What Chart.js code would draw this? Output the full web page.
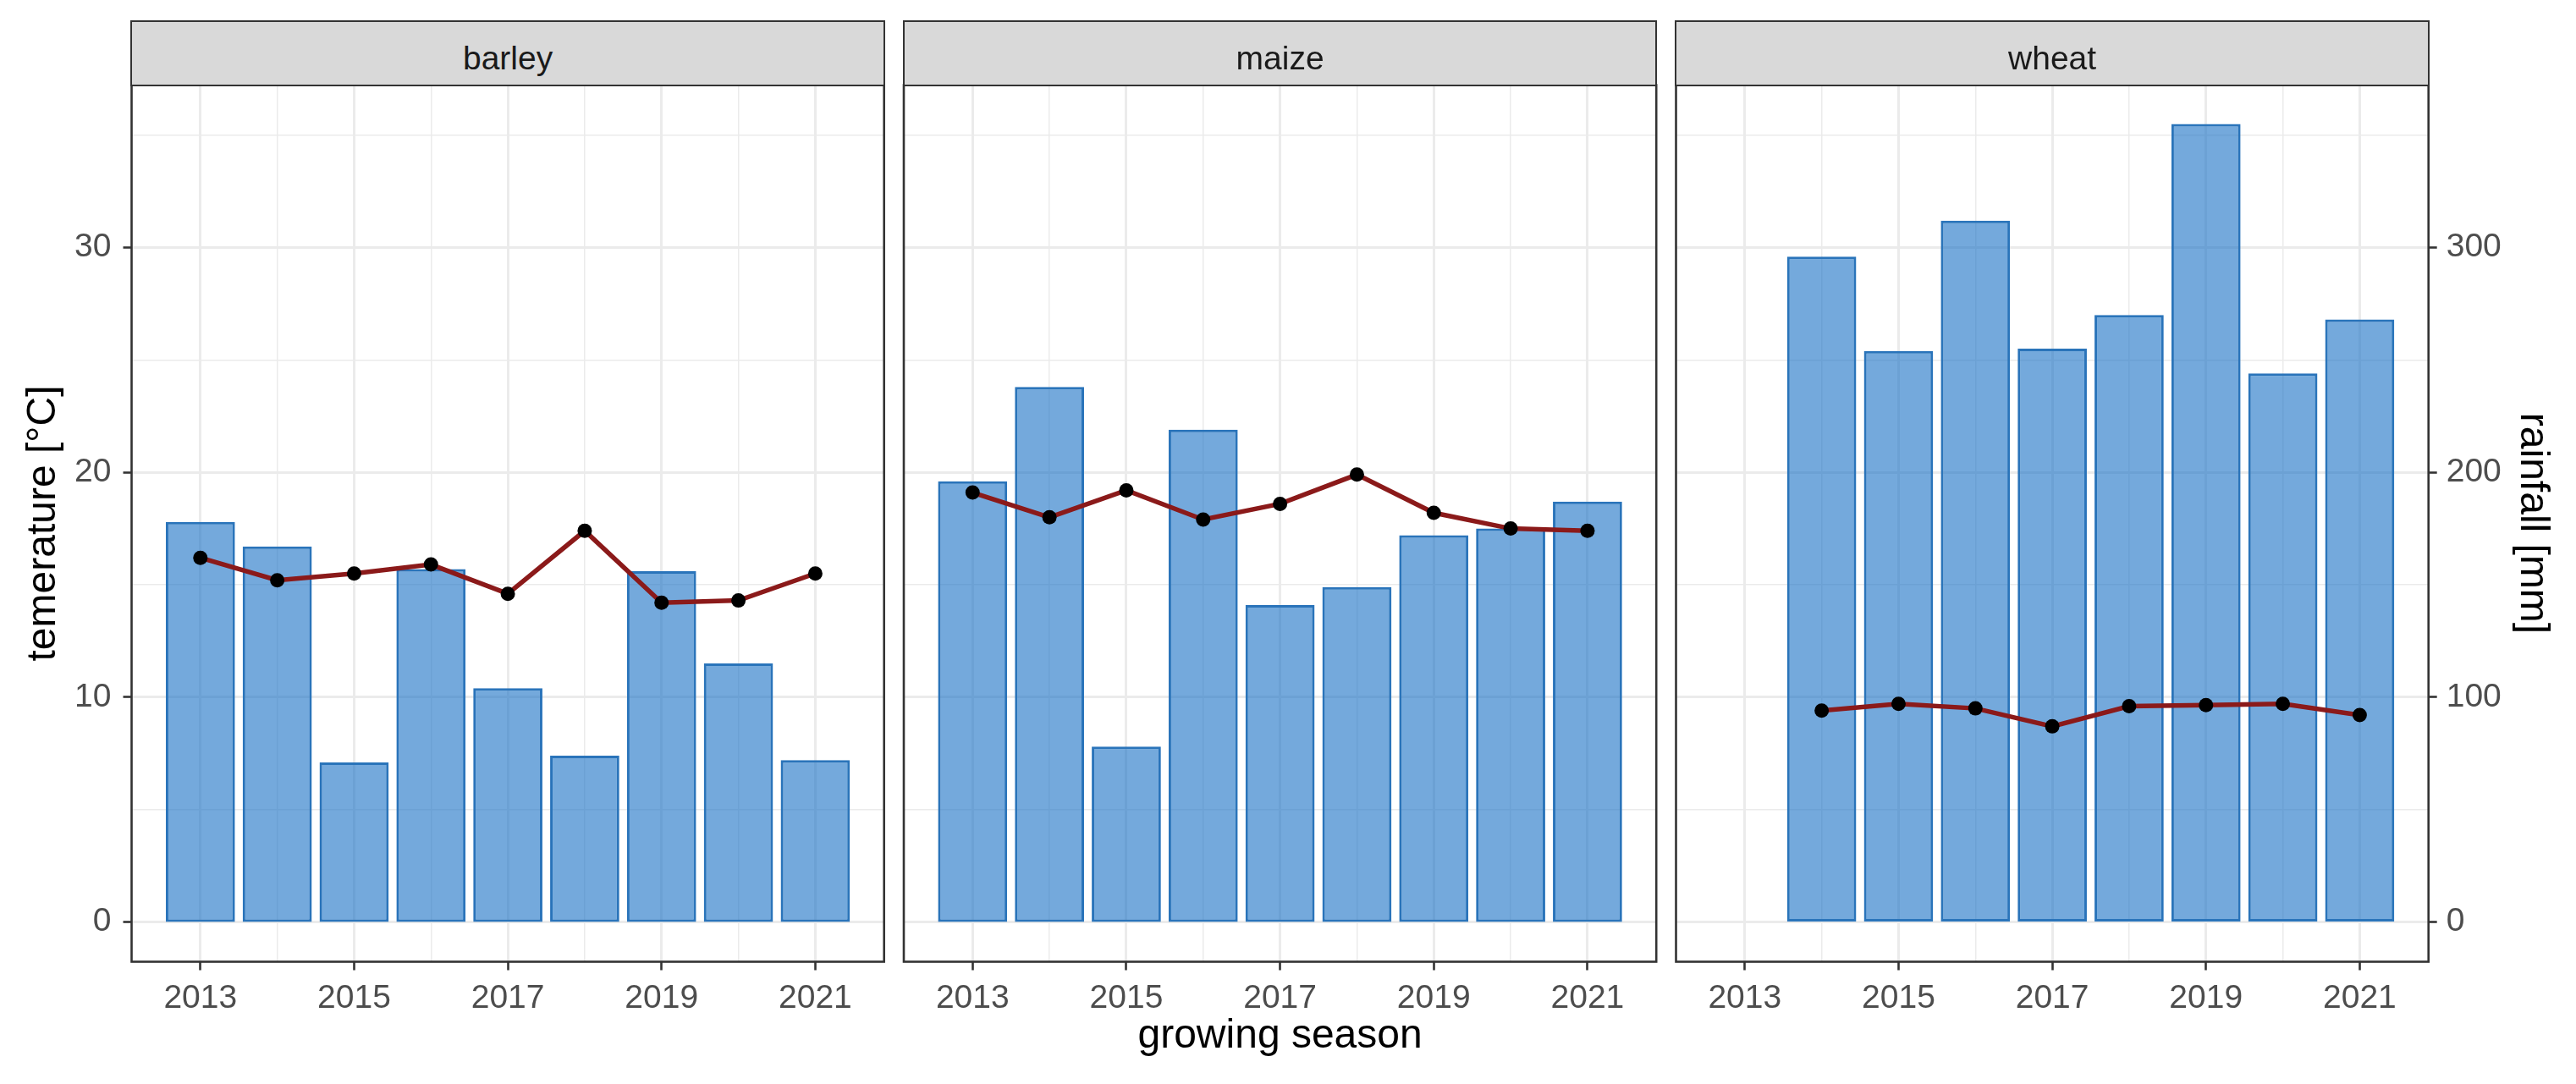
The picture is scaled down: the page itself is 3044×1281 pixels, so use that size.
<!DOCTYPE html>
<html>
<head>
<meta charset="utf-8">
<script src="https://cdn.jsdelivr.net/npm/chart.js@4"></script>
<style>
  html, body { margin: 0; padding: 0; background: #fff; }
  #wrap { position: relative; width: 3044px; height: 1281px; overflow: hidden; }
  #wrap canvas { position: absolute; left: 0; top: 0; }
  .strip {
    position: absolute; box-sizing: border-box;
    background: #d9d9d9; border: 2.6px solid #333;
    font-family: "Liberation Sans", Arial, sans-serif; font-size: 39px; color: #1a1a1a;
  }
  .strip span { position: absolute; left: 0; right: 0; text-align: center; line-height: 39px; top: 23.7px; }
</style>
</head>
<body>
<div id="wrap">
  <canvas id="c0" width="3044" height="1281"></canvas>
  <canvas id="c1" width="3044" height="1281"></canvas>
  <canvas id="c2" width="3044" height="1281"></canvas>
</div>
<script>
// data
const crops = ["barley", "maize", "wheat"];

const barleyYears = [2013, 2014, 2015, 2016, 2017, 2018, 2019, 2020, 2021];
const barleyRain  = [178, 167, 71, 157, 104, 74, 156, 115, 72];
const barleyTemp  = [16.2, 15.2, 15.5, 15.9, 14.6, 17.4, 14.2, 14.3, 15.5];

const maizeYears = [2013, 2014, 2015, 2016, 2017, 2018, 2019, 2020, 2021];
const maizeRain  = [196, 238, 78, 219, 141, 149, 172, 175, 187];
const maizeTemp  = [19.1, 18.0, 19.2, 17.9, 18.6, 19.9, 18.2, 17.5, 17.4];

const wheatYears = [2014, 2015, 2016, 2017, 2018, 2019, 2020, 2021];
const wheatRain  = [296, 254, 312, 255, 270, 355, 244, 268];
const wheatTemp  = [9.4, 9.7, 9.5, 8.7, 9.6, 9.65, 9.7, 9.2];

// ticks / grid breaks
const xGridYears = [2013, 2014, 2015, 2016, 2017, 2018, 2019, 2020, 2021];
const xTickLabels = [2013, 2015, 2017, 2019, 2021];
const tempGrid = [0, 5, 10, 15, 20, 25, 30, 35];
const tempTickLabels = [0, 10, 20, 30];
const rainTickLabels = [0, 100, 200, 300];

// axis limits (ggplot style 5% expansion)
const X_MIN = 2012.105, X_MAX = 2021.895;
const TEMP_MIN = -1.77, TEMP_MAX = 37.23;
const RAIN_MIN = -17.7, RAIN_MAX = 372.3;

// panel geometry
const W = 3044, H = 1281;
const PANEL_LEFT = [155.5, 1068, 1980.5];
const PANEL_RIGHT = [1044.7, 1957.2, 2869.7];
const PANEL_TOP = 100.5, PANEL_BOTTOM = 1136.5, STRIP_TOP = 25;

const FONT = "'Liberation Sans', Arial, sans-serif";
const GRID = "#ebebeb";
const DARK = "#333333";

const panelBorder = {
  id: "panelBorder",
  afterDraw(chart) {
    const { ctx, chartArea: a } = chart;
    ctx.save();
    ctx.strokeStyle = DARK;
    ctx.lineWidth = 2.6;
    ctx.strokeRect(a.left, a.top, a.right - a.left, a.bottom - a.top);
    ctx.restore();
  }
};

const setTicks = list => s => { s.ticks = list.map(v => ({ value: v })); };

function drawPanel(i, years, rain, temp) {
  // strip label
  const strip = document.createElement("div");
  strip.className = "strip";
  strip.style.left = (PANEL_LEFT[i] - 1.3) + "px";
  strip.style.top = (STRIP_TOP - 1.3) + "px";
  strip.style.width = (PANEL_RIGHT[i] - PANEL_LEFT[i] + 2.6) + "px";
  strip.style.height = (PANEL_TOP - STRIP_TOP + 2.6) + "px";
  strip.innerHTML = "<span>" + crops[i] + "</span>";
  document.getElementById("wrap").appendChild(strip);

  const tickFont = { family: FONT, size: 39 };
  const titleFont = { family: FONT, size: 48 };

  new Chart(document.getElementById("c" + i), {
    type: "bar",
    data: {
      datasets: [
        {
          type: "line",
          label: "temperature",
          data: years.map((y, k) => ({ x: y, y: temp[k] })),
          yAxisID: "y",
          borderColor: "#8b1a1a",
          borderWidth: 5.5,
          tension: 0,
          pointRadius: 8.5,
          pointBackgroundColor: "#000",
          pointBorderColor: "#000",
          pointBorderWidth: 0,
          order: 0
        },
        {
          type: "bar",
          label: "rainfall",
          data: years.map((y, k) => ({ x: y, y: rain[k] })),
          yAxisID: "y1",
          backgroundColor: "rgba(23, 112, 197, 0.6)",
          borderColor: "#2a74ba",
          borderWidth: 3,
          borderSkipped: false,
          categoryPercentage: 0.9,
          barPercentage: 1.0,
          order: 1
        }
      ]
    },
    options: {
      responsive: false,
      animation: false,
      devicePixelRatio: 1,
      layout: {
        padding: {
          left: i === 0 ? 0 : PANEL_LEFT[i],
          right: i === 2 ? 0 : W - PANEL_RIGHT[i],
          top: PANEL_TOP,
          bottom: 0
        }
      },
      plugins: { legend: { display: false }, tooltip: { enabled: false } },
      scales: {
        x: {
          type: "linear",
          min: X_MIN,
          max: X_MAX,
          offset: false,
          border: { display: false },
          afterBuildTicks: setTicks(xGridYears),
          grid: {
            offset: false,
            color: GRID,
            lineWidth: c => (xTickLabels.includes(c.tick.value) ? 3 : 1.5),
            tickColor: c => (xTickLabels.includes(c.tick.value) ? DARK : "rgba(0,0,0,0)"),
            tickLength: 10,
            tickWidth: 2.6
          },
          ticks: {
            autoSkip: false,
            maxRotation: 0,
            padding: 10,
            font: tickFont,
            color: "#4d4d4d",
            callback: v => (xTickLabels.includes(v) ? String(v) : "")
          },
          title: {
            display: i === 1,
            text: "growing season",
            font: titleFont,
            color: "#000",
            padding: { top: 0, bottom: 27 }
          },
          afterFit: s => { s.height = H - PANEL_BOTTOM; }
        },
        y: {
          type: "linear",
          position: "left",
          min: TEMP_MIN,
          max: TEMP_MAX,
          border: { display: false },
          afterBuildTicks: setTicks(tempGrid),
          grid: {
            color: GRID,
            lineWidth: c => (tempTickLabels.includes(c.tick.value) ? 3 : 1.5),
            tickColor: c => (tempTickLabels.includes(c.tick.value) ? DARK : "rgba(0,0,0,0)"),
            drawTicks: i === 0,
            tickLength: 10,
            tickWidth: 2.6
          },
          ticks: {
            display: i === 0,
            autoSkip: false,
            padding: 14,
            font: tickFont,
            color: "#4d4d4d",
            callback: v => (tempTickLabels.includes(v) ? String(v) : "")
          },
          title: {
            display: i === 0,
            text: "temerature [°C]",
            font: titleFont,
            color: "#000",
            padding: { top: 22.6, bottom: 0 }
          },
          afterFit: s => { s.width = i === 0 ? PANEL_LEFT[0] : 0; }
        },
        y1: {
          type: "linear",
          position: "right",
          display: i === 2,
          min: RAIN_MIN,
          max: RAIN_MAX,
          border: { display: false },
          afterBuildTicks: setTicks(rainTickLabels),
          grid: {
            drawOnChartArea: false,
            tickColor: DARK,
            tickLength: 10,
            tickWidth: 2.6
          },
          ticks: {
            autoSkip: false,
            padding: 11,
            font: tickFont,
            color: "#4d4d4d"
          },
          title: {
            display: true,
            text: "rainfall [mm]",
            font: titleFont,
            color: "#000",
            padding: { top: 22.6, bottom: 0 }
          },
          afterFit: s => { s.width = i === 2 ? W - PANEL_RIGHT[2] : 0; }
        }
      }
    },
    plugins: [panelBorder]
  });
}

drawPanel(0, barleyYears, barleyRain, barleyTemp);
drawPanel(1, maizeYears, maizeRain, maizeTemp);
drawPanel(2, wheatYears, wheatRain, wheatTemp);
</script>
</body>
</html>
